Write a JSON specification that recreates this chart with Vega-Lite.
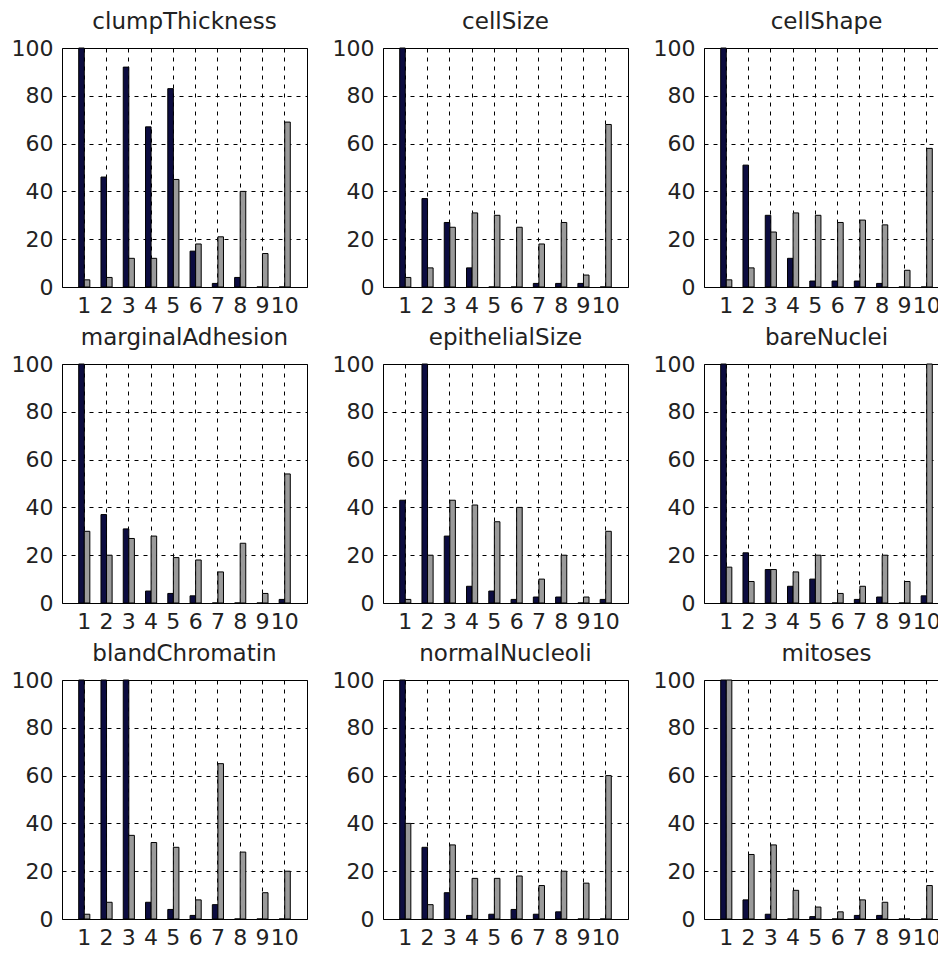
{
  "$schema": "https://vega.github.io/schema/vega-lite/v6.json",
  "padding": {"left": 10, "top": 10, "right": 0, "bottom": 0},
  "background": "white",
  "config": {
    "font": "DejaVu Sans",
    "view": {"stroke": "#000", "strokeWidth": 1},
    "title": {"font": "DejaVu Sans", "fontSize": 23, "fontWeight": "normal", "color": "#222", "offset": 3},
    "axis": {"labelFont": "DejaVu Sans", "labelFontSize": 22, "labelColor": "#222", "domain": false, "ticks": false, "tickSize": 0, "grid": true, "gridColor": "#000", "gridDash": [4, 5], "gridOpacity": 1, "gridWidth": 1},
    "axisX": {"labelPadding": 8, "labelAngle": 0, "bandPosition": 0.5, "labelOverlap": false},
    "axisY": {"labelPadding": 9},
    "scale": {"bandPaddingInner": 0.5, "bandPaddingOuter": 0.75, "bandWithNestedOffsetPaddingInner": 0.5, "bandWithNestedOffsetPaddingOuter": 0.75, "offsetBandPaddingInner": 0, "offsetBandPaddingOuter": 0},
    "bar": {"stroke": "#000", "strokeWidth": 1, "clip": true}
  },
  "data": {"values": [
    {"panel": "clumpThickness", "cat": 1, "series": "benign", "value": 100},
    {"panel": "clumpThickness", "cat": 2, "series": "benign", "value": 46},
    {"panel": "clumpThickness", "cat": 3, "series": "benign", "value": 92},
    {"panel": "clumpThickness", "cat": 4, "series": "benign", "value": 67},
    {"panel": "clumpThickness", "cat": 5, "series": "benign", "value": 83},
    {"panel": "clumpThickness", "cat": 6, "series": "benign", "value": 15},
    {"panel": "clumpThickness", "cat": 7, "series": "benign", "value": 1.5},
    {"panel": "clumpThickness", "cat": 8, "series": "benign", "value": 4},
    {"panel": "clumpThickness", "cat": 9, "series": "benign", "value": 0},
    {"panel": "clumpThickness", "cat": 10, "series": "benign", "value": 0},
    {"panel": "clumpThickness", "cat": 1, "series": "malignant", "value": 3},
    {"panel": "clumpThickness", "cat": 2, "series": "malignant", "value": 4},
    {"panel": "clumpThickness", "cat": 3, "series": "malignant", "value": 12},
    {"panel": "clumpThickness", "cat": 4, "series": "malignant", "value": 12},
    {"panel": "clumpThickness", "cat": 5, "series": "malignant", "value": 45},
    {"panel": "clumpThickness", "cat": 6, "series": "malignant", "value": 18},
    {"panel": "clumpThickness", "cat": 7, "series": "malignant", "value": 21},
    {"panel": "clumpThickness", "cat": 8, "series": "malignant", "value": 40},
    {"panel": "clumpThickness", "cat": 9, "series": "malignant", "value": 14},
    {"panel": "clumpThickness", "cat": 10, "series": "malignant", "value": 69},

    {"panel": "cellSize", "cat": 1, "series": "benign", "value": 100},
    {"panel": "cellSize", "cat": 2, "series": "benign", "value": 37},
    {"panel": "cellSize", "cat": 3, "series": "benign", "value": 27},
    {"panel": "cellSize", "cat": 4, "series": "benign", "value": 8},
    {"panel": "cellSize", "cat": 5, "series": "benign", "value": 0},
    {"panel": "cellSize", "cat": 6, "series": "benign", "value": 0},
    {"panel": "cellSize", "cat": 7, "series": "benign", "value": 1.5},
    {"panel": "cellSize", "cat": 8, "series": "benign", "value": 1.5},
    {"panel": "cellSize", "cat": 9, "series": "benign", "value": 1.5},
    {"panel": "cellSize", "cat": 10, "series": "benign", "value": 0},
    {"panel": "cellSize", "cat": 1, "series": "malignant", "value": 4},
    {"panel": "cellSize", "cat": 2, "series": "malignant", "value": 8},
    {"panel": "cellSize", "cat": 3, "series": "malignant", "value": 25},
    {"panel": "cellSize", "cat": 4, "series": "malignant", "value": 31},
    {"panel": "cellSize", "cat": 5, "series": "malignant", "value": 30},
    {"panel": "cellSize", "cat": 6, "series": "malignant", "value": 25},
    {"panel": "cellSize", "cat": 7, "series": "malignant", "value": 18},
    {"panel": "cellSize", "cat": 8, "series": "malignant", "value": 27},
    {"panel": "cellSize", "cat": 9, "series": "malignant", "value": 5},
    {"panel": "cellSize", "cat": 10, "series": "malignant", "value": 68},

    {"panel": "cellShape", "cat": 1, "series": "benign", "value": 100},
    {"panel": "cellShape", "cat": 2, "series": "benign", "value": 51},
    {"panel": "cellShape", "cat": 3, "series": "benign", "value": 30},
    {"panel": "cellShape", "cat": 4, "series": "benign", "value": 12},
    {"panel": "cellShape", "cat": 5, "series": "benign", "value": 2.5},
    {"panel": "cellShape", "cat": 6, "series": "benign", "value": 2.5},
    {"panel": "cellShape", "cat": 7, "series": "benign", "value": 2.5},
    {"panel": "cellShape", "cat": 8, "series": "benign", "value": 1.5},
    {"panel": "cellShape", "cat": 9, "series": "benign", "value": 0},
    {"panel": "cellShape", "cat": 10, "series": "benign", "value": 0},
    {"panel": "cellShape", "cat": 1, "series": "malignant", "value": 3},
    {"panel": "cellShape", "cat": 2, "series": "malignant", "value": 8},
    {"panel": "cellShape", "cat": 3, "series": "malignant", "value": 23},
    {"panel": "cellShape", "cat": 4, "series": "malignant", "value": 31},
    {"panel": "cellShape", "cat": 5, "series": "malignant", "value": 30},
    {"panel": "cellShape", "cat": 6, "series": "malignant", "value": 27},
    {"panel": "cellShape", "cat": 7, "series": "malignant", "value": 28},
    {"panel": "cellShape", "cat": 8, "series": "malignant", "value": 26},
    {"panel": "cellShape", "cat": 9, "series": "malignant", "value": 7},
    {"panel": "cellShape", "cat": 10, "series": "malignant", "value": 58},

    {"panel": "marginalAdhesion", "cat": 1, "series": "benign", "value": 100},
    {"panel": "marginalAdhesion", "cat": 2, "series": "benign", "value": 37},
    {"panel": "marginalAdhesion", "cat": 3, "series": "benign", "value": 31},
    {"panel": "marginalAdhesion", "cat": 4, "series": "benign", "value": 5},
    {"panel": "marginalAdhesion", "cat": 5, "series": "benign", "value": 4},
    {"panel": "marginalAdhesion", "cat": 6, "series": "benign", "value": 3},
    {"panel": "marginalAdhesion", "cat": 7, "series": "benign", "value": 0},
    {"panel": "marginalAdhesion", "cat": 8, "series": "benign", "value": 0},
    {"panel": "marginalAdhesion", "cat": 9, "series": "benign", "value": 0},
    {"panel": "marginalAdhesion", "cat": 10, "series": "benign", "value": 1.5},
    {"panel": "marginalAdhesion", "cat": 1, "series": "malignant", "value": 30},
    {"panel": "marginalAdhesion", "cat": 2, "series": "malignant", "value": 20},
    {"panel": "marginalAdhesion", "cat": 3, "series": "malignant", "value": 27},
    {"panel": "marginalAdhesion", "cat": 4, "series": "malignant", "value": 28},
    {"panel": "marginalAdhesion", "cat": 5, "series": "malignant", "value": 19},
    {"panel": "marginalAdhesion", "cat": 6, "series": "malignant", "value": 18},
    {"panel": "marginalAdhesion", "cat": 7, "series": "malignant", "value": 13},
    {"panel": "marginalAdhesion", "cat": 8, "series": "malignant", "value": 25},
    {"panel": "marginalAdhesion", "cat": 9, "series": "malignant", "value": 4},
    {"panel": "marginalAdhesion", "cat": 10, "series": "malignant", "value": 54},

    {"panel": "epithelialSize", "cat": 1, "series": "benign", "value": 43},
    {"panel": "epithelialSize", "cat": 2, "series": "benign", "value": 100},
    {"panel": "epithelialSize", "cat": 3, "series": "benign", "value": 28},
    {"panel": "epithelialSize", "cat": 4, "series": "benign", "value": 7},
    {"panel": "epithelialSize", "cat": 5, "series": "benign", "value": 5},
    {"panel": "epithelialSize", "cat": 6, "series": "benign", "value": 1.5},
    {"panel": "epithelialSize", "cat": 7, "series": "benign", "value": 2.5},
    {"panel": "epithelialSize", "cat": 8, "series": "benign", "value": 2.5},
    {"panel": "epithelialSize", "cat": 9, "series": "benign", "value": 0},
    {"panel": "epithelialSize", "cat": 10, "series": "benign", "value": 1.5},
    {"panel": "epithelialSize", "cat": 1, "series": "malignant", "value": 1.5},
    {"panel": "epithelialSize", "cat": 2, "series": "malignant", "value": 20},
    {"panel": "epithelialSize", "cat": 3, "series": "malignant", "value": 43},
    {"panel": "epithelialSize", "cat": 4, "series": "malignant", "value": 41},
    {"panel": "epithelialSize", "cat": 5, "series": "malignant", "value": 34},
    {"panel": "epithelialSize", "cat": 6, "series": "malignant", "value": 40},
    {"panel": "epithelialSize", "cat": 7, "series": "malignant", "value": 10},
    {"panel": "epithelialSize", "cat": 8, "series": "malignant", "value": 20},
    {"panel": "epithelialSize", "cat": 9, "series": "malignant", "value": 2.5},
    {"panel": "epithelialSize", "cat": 10, "series": "malignant", "value": 30},

    {"panel": "bareNuclei", "cat": 1, "series": "benign", "value": 100},
    {"panel": "bareNuclei", "cat": 2, "series": "benign", "value": 21},
    {"panel": "bareNuclei", "cat": 3, "series": "benign", "value": 14},
    {"panel": "bareNuclei", "cat": 4, "series": "benign", "value": 7},
    {"panel": "bareNuclei", "cat": 5, "series": "benign", "value": 10},
    {"panel": "bareNuclei", "cat": 6, "series": "benign", "value": 0},
    {"panel": "bareNuclei", "cat": 7, "series": "benign", "value": 1.5},
    {"panel": "bareNuclei", "cat": 8, "series": "benign", "value": 2.5},
    {"panel": "bareNuclei", "cat": 9, "series": "benign", "value": 0},
    {"panel": "bareNuclei", "cat": 10, "series": "benign", "value": 3},
    {"panel": "bareNuclei", "cat": 1, "series": "malignant", "value": 15},
    {"panel": "bareNuclei", "cat": 2, "series": "malignant", "value": 9},
    {"panel": "bareNuclei", "cat": 3, "series": "malignant", "value": 14},
    {"panel": "bareNuclei", "cat": 4, "series": "malignant", "value": 13},
    {"panel": "bareNuclei", "cat": 5, "series": "malignant", "value": 20},
    {"panel": "bareNuclei", "cat": 6, "series": "malignant", "value": 4},
    {"panel": "bareNuclei", "cat": 7, "series": "malignant", "value": 7},
    {"panel": "bareNuclei", "cat": 8, "series": "malignant", "value": 20},
    {"panel": "bareNuclei", "cat": 9, "series": "malignant", "value": 9},
    {"panel": "bareNuclei", "cat": 10, "series": "malignant", "value": 100},

    {"panel": "blandChromatin", "cat": 1, "series": "benign", "value": 100},
    {"panel": "blandChromatin", "cat": 2, "series": "benign", "value": 100},
    {"panel": "blandChromatin", "cat": 3, "series": "benign", "value": 100},
    {"panel": "blandChromatin", "cat": 4, "series": "benign", "value": 7},
    {"panel": "blandChromatin", "cat": 5, "series": "benign", "value": 4},
    {"panel": "blandChromatin", "cat": 6, "series": "benign", "value": 1.5},
    {"panel": "blandChromatin", "cat": 7, "series": "benign", "value": 6},
    {"panel": "blandChromatin", "cat": 8, "series": "benign", "value": 0},
    {"panel": "blandChromatin", "cat": 9, "series": "benign", "value": 0},
    {"panel": "blandChromatin", "cat": 10, "series": "benign", "value": 0},
    {"panel": "blandChromatin", "cat": 1, "series": "malignant", "value": 2},
    {"panel": "blandChromatin", "cat": 2, "series": "malignant", "value": 7},
    {"panel": "blandChromatin", "cat": 3, "series": "malignant", "value": 35},
    {"panel": "blandChromatin", "cat": 4, "series": "malignant", "value": 32},
    {"panel": "blandChromatin", "cat": 5, "series": "malignant", "value": 30},
    {"panel": "blandChromatin", "cat": 6, "series": "malignant", "value": 8},
    {"panel": "blandChromatin", "cat": 7, "series": "malignant", "value": 65},
    {"panel": "blandChromatin", "cat": 8, "series": "malignant", "value": 28},
    {"panel": "blandChromatin", "cat": 9, "series": "malignant", "value": 11},
    {"panel": "blandChromatin", "cat": 10, "series": "malignant", "value": 20},

    {"panel": "normalNucleoli", "cat": 1, "series": "benign", "value": 100},
    {"panel": "normalNucleoli", "cat": 2, "series": "benign", "value": 30},
    {"panel": "normalNucleoli", "cat": 3, "series": "benign", "value": 11},
    {"panel": "normalNucleoli", "cat": 4, "series": "benign", "value": 1.5},
    {"panel": "normalNucleoli", "cat": 5, "series": "benign", "value": 2},
    {"panel": "normalNucleoli", "cat": 6, "series": "benign", "value": 4},
    {"panel": "normalNucleoli", "cat": 7, "series": "benign", "value": 2},
    {"panel": "normalNucleoli", "cat": 8, "series": "benign", "value": 3},
    {"panel": "normalNucleoli", "cat": 9, "series": "benign", "value": 0},
    {"panel": "normalNucleoli", "cat": 10, "series": "benign", "value": 0},
    {"panel": "normalNucleoli", "cat": 1, "series": "malignant", "value": 40},
    {"panel": "normalNucleoli", "cat": 2, "series": "malignant", "value": 6},
    {"panel": "normalNucleoli", "cat": 3, "series": "malignant", "value": 31},
    {"panel": "normalNucleoli", "cat": 4, "series": "malignant", "value": 17},
    {"panel": "normalNucleoli", "cat": 5, "series": "malignant", "value": 17},
    {"panel": "normalNucleoli", "cat": 6, "series": "malignant", "value": 18},
    {"panel": "normalNucleoli", "cat": 7, "series": "malignant", "value": 14},
    {"panel": "normalNucleoli", "cat": 8, "series": "malignant", "value": 20},
    {"panel": "normalNucleoli", "cat": 9, "series": "malignant", "value": 15},
    {"panel": "normalNucleoli", "cat": 10, "series": "malignant", "value": 60},

    {"panel": "mitoses", "cat": 1, "series": "benign", "value": 100},
    {"panel": "mitoses", "cat": 2, "series": "benign", "value": 8},
    {"panel": "mitoses", "cat": 3, "series": "benign", "value": 2},
    {"panel": "mitoses", "cat": 4, "series": "benign", "value": 0},
    {"panel": "mitoses", "cat": 5, "series": "benign", "value": 1},
    {"panel": "mitoses", "cat": 6, "series": "benign", "value": 0},
    {"panel": "mitoses", "cat": 7, "series": "benign", "value": 1.5},
    {"panel": "mitoses", "cat": 8, "series": "benign", "value": 1.5},
    {"panel": "mitoses", "cat": 9, "series": "benign", "value": 0},
    {"panel": "mitoses", "cat": 10, "series": "benign", "value": 0},
    {"panel": "mitoses", "cat": 1, "series": "malignant", "value": 100},
    {"panel": "mitoses", "cat": 2, "series": "malignant", "value": 27},
    {"panel": "mitoses", "cat": 3, "series": "malignant", "value": 31},
    {"panel": "mitoses", "cat": 4, "series": "malignant", "value": 12},
    {"panel": "mitoses", "cat": 5, "series": "malignant", "value": 5},
    {"panel": "mitoses", "cat": 6, "series": "malignant", "value": 3},
    {"panel": "mitoses", "cat": 7, "series": "malignant", "value": 8},
    {"panel": "mitoses", "cat": 8, "series": "malignant", "value": 7},
    {"panel": "mitoses", "cat": 9, "series": "malignant", "value": 0},
    {"panel": "mitoses", "cat": 10, "series": "malignant", "value": 14}
  ]},
  "columns": 3,
  "spacing": {"row": 77, "column": 76},
  "bounds": "flush",
  "concat": [
    {"title": "clumpThickness", "width": 245, "height": 239, "transform": [{"filter": "datum.panel === 'clumpThickness'"}], "mark": "bar",
     "encoding": {"x": {"field": "cat", "type": "ordinal", "axis": {"title": null}}, "xOffset": {"field": "series", "type": "nominal"}, "y": {"field": "value", "type": "quantitative", "scale": {"domain": [0, 100]}, "axis": {"title": null, "values": [0, 20, 40, 60, 80, 100]}}, "color": {"field": "series", "type": "nominal", "scale": {"domain": ["benign", "malignant"], "range": ["#0c0c40", "#9a9a9a"]}, "legend": null}}},
    {"title": "cellSize", "width": 245, "height": 239, "transform": [{"filter": "datum.panel === 'cellSize'"}], "mark": "bar",
     "encoding": {"x": {"field": "cat", "type": "ordinal", "axis": {"title": null}}, "xOffset": {"field": "series", "type": "nominal"}, "y": {"field": "value", "type": "quantitative", "scale": {"domain": [0, 100]}, "axis": {"title": null, "values": [0, 20, 40, 60, 80, 100]}}, "color": {"field": "series", "type": "nominal", "scale": {"domain": ["benign", "malignant"], "range": ["#0c0c40", "#9a9a9a"]}, "legend": null}}},
    {"title": "cellShape", "width": 245, "height": 239, "transform": [{"filter": "datum.panel === 'cellShape'"}], "mark": "bar",
     "encoding": {"x": {"field": "cat", "type": "ordinal", "axis": {"title": null}}, "xOffset": {"field": "series", "type": "nominal"}, "y": {"field": "value", "type": "quantitative", "scale": {"domain": [0, 100]}, "axis": {"title": null, "values": [0, 20, 40, 60, 80, 100]}}, "color": {"field": "series", "type": "nominal", "scale": {"domain": ["benign", "malignant"], "range": ["#0c0c40", "#9a9a9a"]}, "legend": null}}},
    {"title": "marginalAdhesion", "width": 245, "height": 239, "transform": [{"filter": "datum.panel === 'marginalAdhesion'"}], "mark": "bar",
     "encoding": {"x": {"field": "cat", "type": "ordinal", "axis": {"title": null}}, "xOffset": {"field": "series", "type": "nominal"}, "y": {"field": "value", "type": "quantitative", "scale": {"domain": [0, 100]}, "axis": {"title": null, "values": [0, 20, 40, 60, 80, 100]}}, "color": {"field": "series", "type": "nominal", "scale": {"domain": ["benign", "malignant"], "range": ["#0c0c40", "#9a9a9a"]}, "legend": null}}},
    {"title": "epithelialSize", "width": 245, "height": 239, "transform": [{"filter": "datum.panel === 'epithelialSize'"}], "mark": "bar",
     "encoding": {"x": {"field": "cat", "type": "ordinal", "axis": {"title": null}}, "xOffset": {"field": "series", "type": "nominal"}, "y": {"field": "value", "type": "quantitative", "scale": {"domain": [0, 100]}, "axis": {"title": null, "values": [0, 20, 40, 60, 80, 100]}}, "color": {"field": "series", "type": "nominal", "scale": {"domain": ["benign", "malignant"], "range": ["#0c0c40", "#9a9a9a"]}, "legend": null}}},
    {"title": "bareNuclei", "width": 245, "height": 239, "transform": [{"filter": "datum.panel === 'bareNuclei'"}], "mark": "bar",
     "encoding": {"x": {"field": "cat", "type": "ordinal", "axis": {"title": null}}, "xOffset": {"field": "series", "type": "nominal"}, "y": {"field": "value", "type": "quantitative", "scale": {"domain": [0, 100]}, "axis": {"title": null, "values": [0, 20, 40, 60, 80, 100]}}, "color": {"field": "series", "type": "nominal", "scale": {"domain": ["benign", "malignant"], "range": ["#0c0c40", "#9a9a9a"]}, "legend": null}}},
    {"title": "blandChromatin", "width": 245, "height": 239, "transform": [{"filter": "datum.panel === 'blandChromatin'"}], "mark": "bar",
     "encoding": {"x": {"field": "cat", "type": "ordinal", "axis": {"title": null}}, "xOffset": {"field": "series", "type": "nominal"}, "y": {"field": "value", "type": "quantitative", "scale": {"domain": [0, 100]}, "axis": {"title": null, "values": [0, 20, 40, 60, 80, 100]}}, "color": {"field": "series", "type": "nominal", "scale": {"domain": ["benign", "malignant"], "range": ["#0c0c40", "#9a9a9a"]}, "legend": null}}},
    {"title": "normalNucleoli", "width": 245, "height": 239, "transform": [{"filter": "datum.panel === 'normalNucleoli'"}], "mark": "bar",
     "encoding": {"x": {"field": "cat", "type": "ordinal", "axis": {"title": null}}, "xOffset": {"field": "series", "type": "nominal"}, "y": {"field": "value", "type": "quantitative", "scale": {"domain": [0, 100]}, "axis": {"title": null, "values": [0, 20, 40, 60, 80, 100]}}, "color": {"field": "series", "type": "nominal", "scale": {"domain": ["benign", "malignant"], "range": ["#0c0c40", "#9a9a9a"]}, "legend": null}}},
    {"title": "mitoses", "width": 245, "height": 239, "transform": [{"filter": "datum.panel === 'mitoses'"}], "mark": "bar",
     "encoding": {"x": {"field": "cat", "type": "ordinal", "axis": {"title": null}}, "xOffset": {"field": "series", "type": "nominal"}, "y": {"field": "value", "type": "quantitative", "scale": {"domain": [0, 100]}, "axis": {"title": null, "values": [0, 20, 40, 60, 80, 100]}}, "color": {"field": "series", "type": "nominal", "scale": {"domain": ["benign", "malignant"], "range": ["#0c0c40", "#9a9a9a"]}, "legend": null}}}
  ]
}
